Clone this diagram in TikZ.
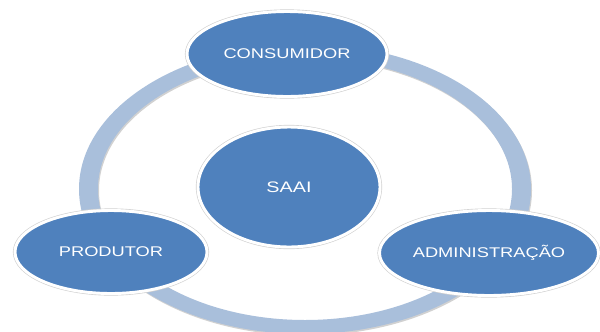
\documentclass[tikz,border=0pt]{standalone}
\usepackage{fontspec}
\newfontfamily\labelfont[FakeStretch=1.3]{Liberation Sans}
\usetikzlibrary{shapes.geometric}
\definecolor{nodeblue}{RGB}{79, 129, 189}
\definecolor{ringblue}{RGB}{169, 191, 219}
\tikzset{
  actor/.style={ellipse, draw=white, line width=2.5pt, fill=nodeblue, text=white, inner sep=0pt,
    preaction={draw=black!18, line width=3.6pt},
    font=\labelfont\fontsize{12}{14}\selectfont}
}

\begin{document}
\begin{tikzpicture}[x=0.03cm, y=-0.03cm]
  \useasboundingbox (0, 0) rectangle (600, 331);
  \clip (0, 0) rectangle (600, 331);

  % Ring behind the actors
  \fill[black, opacity=0.18, even odd rule] (306, 190.5) ellipse [x radius=226, y radius=145]
    (306, 190.5) ellipse [x radius=207, y radius=131];
  \fill[ringblue, even odd rule] (305, 189) ellipse [x radius=226, y radius=145]
    (305, 189) ellipse [x radius=207, y radius=131];

  % Centre
  \node[actor, minimum width=5.46cm, minimum height=3.6cm, font=\labelfont\fontsize{13}{15}\selectfont] (saai) at (289, 187) {SAAI};

  % Actors round the ring
  \node[actor, minimum width=6cm, minimum height=2.55cm] (consumidor) at (287, 54) {CONSUMIDOR};
  \node[actor, minimum width=5.76cm, minimum height=2.49cm] (produtor) at (111, 252) {PRODUTOR};
  \node[actor, minimum width=6.57cm, minimum height=2.55cm] (admin) at (489, 253) {ADMINISTRAÇÃO};
\end{tikzpicture}
\end{document}
